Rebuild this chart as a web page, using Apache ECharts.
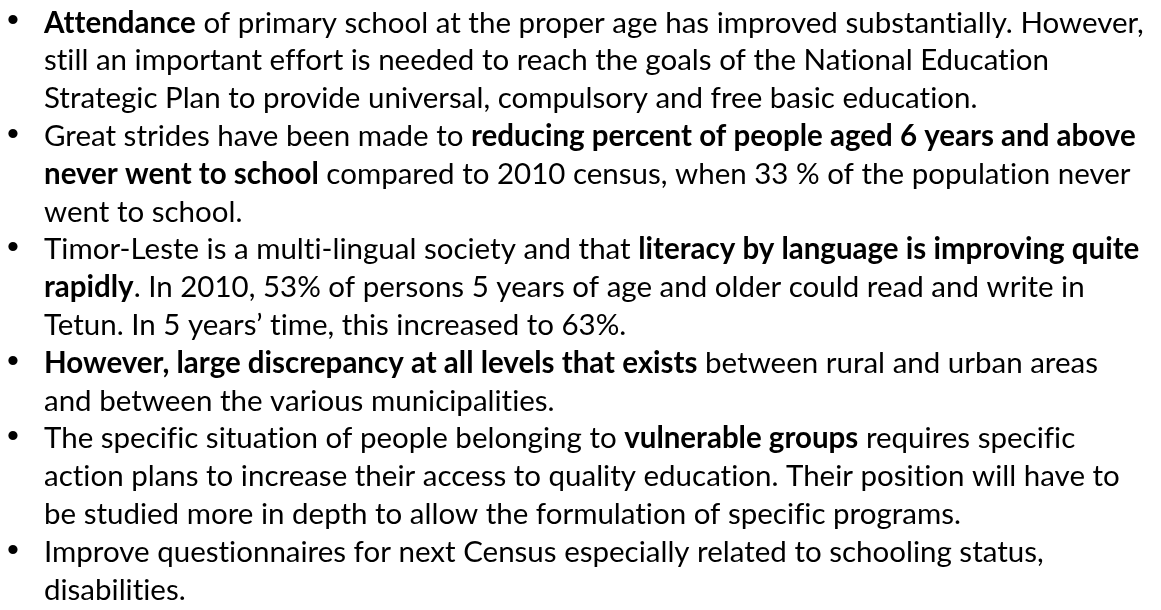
<!DOCTYPE html>
<html>
<head>
    <meta charset="utf-8"/>
    <title>Education summary</title>
    <style>
        html, body { margin: 0; padding: 0; background: #fff; }
        #main { width: 1161px; height: 610px; }
    </style>
</head>
<body>
<div id="main"></div>
<script src="https://cdn.jsdelivr.net/npm/echarts@6/dist/echarts.min.js"></script>
<script>
    // bullet texts, one entry per printed line, **...** marks bold
    var bullet1 = [
        '**Attendance** of primary school at the proper age has improved substantially. However,',
        'still an important effort is needed to reach the goals of the National Education',
        'Strategic Plan to provide universal, compulsory and free basic education.'
    ];
    var bullet2 = [
        'Great strides have been made to **reducing percent of people aged 6 years and above**',
        '**never went to school** compared to 2010 census, when 33 % of the population never',
        'went to school.'
    ];
    var bullet3 = [
        'Timor-Leste is a multi-lingual society and that **literacy by language is improving quite**',
        '**rapidly**. In 2010, 53% of persons 5 years of age and older could read and write in',
        'Tetun. In 5 years\u2019 time, this increased to 63%.'
    ];
    var bullet4 = [
        '**However, large discrepancy at all levels that exists** between rural and urban areas',
        'and between the various municipalities.'
    ];
    var bullet5 = [
        'The specific situation of people belonging to **vulnerable groups** requires specific',
        'action plans to increase their access to quality education. Their position will have to',
        'be studied more in depth to allow the formulation of specific programs.'
    ];
    var bullet6 = [
        'Improve questionnaires for next Census especially related to schooling status,',
        'disabilities.'
    ];
    var bullets = [bullet1, bullet2, bullet3, bullet4, bullet5, bullet6];

    var FONT = 'Lato, "Noto Sans", sans-serif';
    var SIZE = 29.5;
    var LINE = 37.8;
    var TOP = 23;

    // turn **bold** markup into echarts rich text
    // (a zero-width non-joiner after f / t keeps Lato from drawing ligatures)
    function toRich(s) {
        return s.split('**').map(function (part, i) {
            if (!part) return '';
            part = part.replace(/([ft])(?=[filt])/g, '$1\u200C');
            return i % 2 ? '{b|' + part + '}' : '{n|' + part + '}';
        }).join('');
    }

    var elements = [];
    var row = 0;
    bullets.forEach(function (lines) {
        elements.push({
            type: 'text',
            x: 13,
            y: TOP + row * LINE - 1,
            style: {
                text: '\u2022',
                font: '34px Arial, "Liberation Sans", sans-serif',
                fill: '#000',
                align: 'center',
                verticalAlign: 'middle'
            }
        });
        lines.forEach(function (line) {
            elements.push({
                type: 'text',
                x: 44,
                y: TOP + row * LINE,
                style: {
                    text: toRich(line),
                    fill: '#000',
                    align: 'left',
                    verticalAlign: 'middle',
                    rich: {
                        n: {fontFamily: FONT, fontSize: SIZE, fontWeight: 'normal', fill: '#000'},
                        b: {fontFamily: FONT, fontSize: SIZE, fontWeight: 'bold', fill: '#000'}
                    }
                }
            });
            row++;
        });
    });

    var chart = echarts.init(document.getElementById('main'));
    chart.setOption({
        backgroundColor: '#fff',
        animation: false,
        graphic: {elements: elements}
    });
</script>
</body>
</html>
